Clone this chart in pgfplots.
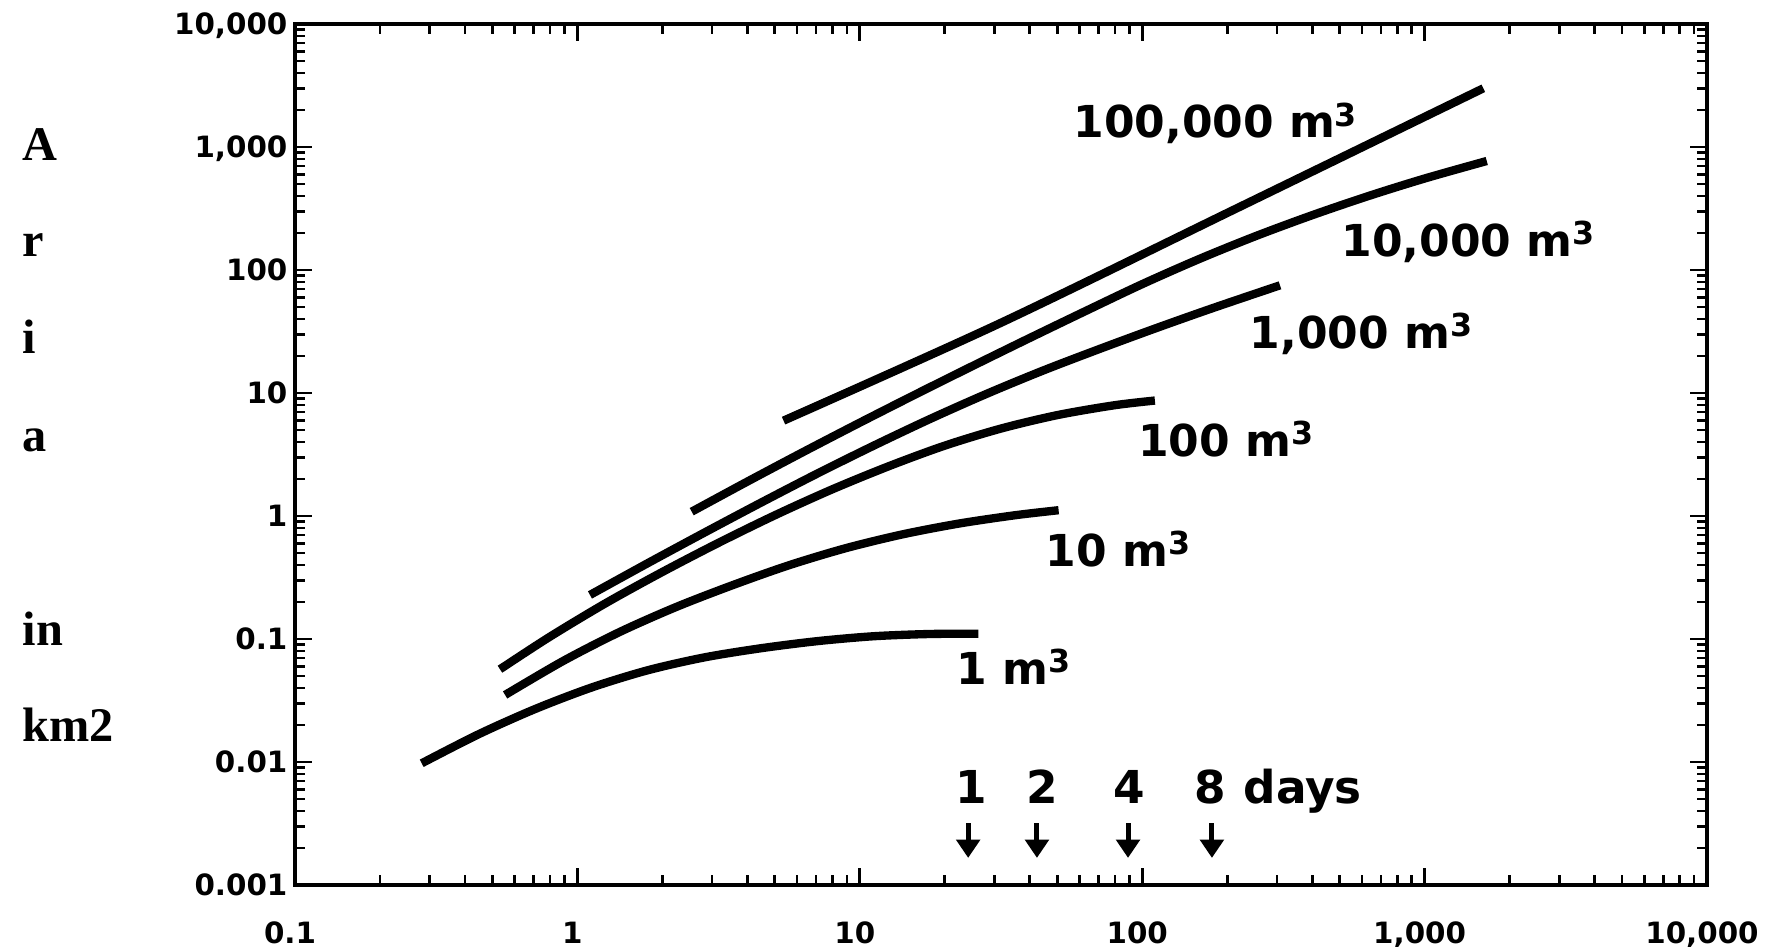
\documentclass[border=0pt]{standalone}
\usepackage{fontspec}
\usepackage{pgfplots}
\pgfplotsset{compat=1.18}
\usetikzlibrary{arrows.meta}
\newfontfamily\dvs{DejaVu Sans}
\newfontfamily\lser{Liberation Serif}
\newcommand\tickf{\dvs\bfseries\fontsize{8.8}{10}\selectfont}
\newcommand\labf{\dvs\bfseries\fontsize{13.2}{15}\selectfont}
\newcommand\dayf{\dvs\bfseries\fontsize{13.6}{15}\selectfont}
\newcommand\serf{\lser\bfseries\fontsize{14.5}{16}\selectfont}
\newcommand\cub{\raisebox{3.6pt}{\fontsize{9.5}{10}\selectfont 3}}
\begin{document}
\begin{tikzpicture}
\begin{axis}[
 xmode=log, ymode=log,
 scale only axis, width=423.6pt, height=258.3pt,
 xmin=0.1, xmax=10000, ymin=0.001, ymax=10000,
 xtick={0.1,1,10,100,1000,10000},
 xticklabels={0.1,1,10,100,{1,000},{10,000}},
 ytick={0.001,0.01,0.1,1,10,100,1000,10000},
 yticklabels={0.001,0.01,0.1,1,10,100,{1,000},{10,000}},
 tick align=inside, xtick pos=both, ytick pos=both,
 major tick length=5.1pt, minor tick length=3pt,
 every tick/.style={black, line width=0.8pt},
 line width=1pt,
 xticklabel style={font=\tickf, anchor=north, inner sep=0pt, yshift=-10.5pt, xshift=-1.5pt},
 yticklabel style={font=\tickf, anchor=base east, inner sep=0pt, xshift=-1.8pt, yshift=-3.2pt},
 clip=false,
]
% 1 m3
\addplot[black, line width=2.5pt, smooth, line cap=butt] coordinates {
 (0.281,0.009759) (0.4467,0.01680) (0.7079,0.02692) (1.122,0.04030) (1.778,0.05574)
 (2.818,0.07086) (4.467,0.08408) (7.079,0.09605) (11.22,0.1053) (17.78,0.1098) (26.29,0.1102)};
% 10 m3
\addplot[black, line width=2.5pt, smooth, line cap=butt] coordinates {
 (0.5546,0.03508) (0.8913,0.06634) (1.413,0.1141) (2.239,0.1821) (3.548,0.2740)
 (5.623,0.3981) (8.913,0.5470) (14.13,0.7079) (22.39,0.8670) (35.48,1.014) (50.58,1.114)};
% 100 m3
\addplot[black, line width=2.5pt, smooth, line cap=butt] coordinates {
 (0.532,0.05675) (0.7943,0.1034) (1.259,0.1953) (1.995,0.3496) (3.162,0.6053)
 (5.012,1.015) (7.943,1.637) (12.59,2.525) (19.95,3.725) (31.62,5.138)
 (50.12,6.612) (79.43,7.937) (110.9,8.680)};
% 1,000 m3
\addplot[black, line width=2.5pt, smooth, line cap=butt] coordinates {
 (1.108,0.2280) (1.778,0.4143) (2.818,0.7328) (4.467,1.283) (7.079,2.215)
 (11.22,3.738) (17.78,6.163) (28.18,9.858) (44.67,15.25) (70.79,22.84)
 (112.2,33.71) (177.8,48.99) (307.6,75.04)};
% 10,000 m3
\addplot[black, line width=2.5pt, smooth, line cap=butt] coordinates {
 (2.540,1.084) (3.981,1.894) (6.310,3.317) (10,5.736) (15.85,9.806)
 (25.12,16.60) (39.81,27.87) (63.10,46.42) (100,76.71) (158.5,122.3)
 (251.2,187.8) (398.1,277.8) (631.0,398.5) (1000,554.0) (1660,769.1)};
% 100,000 m3
\addplot[black, line width=2.5pt, smooth, line cap=butt] coordinates {
 (5.370,5.957) (31.37,36.90) (210.3,307.6) (1614,2999)};

\node[font=\labf, anchor=base west, inner sep=0pt] at (axis cs:56.3,1183) {100,000 m\cub};
\node[font=\labf, anchor=base west, inner sep=0pt] at (axis cs:501.6,128.2) {10,000 m\cub};
\node[font=\labf, anchor=base west, inner sep=0pt] at (axis cs:237.5,23.07) {1,000 m\cub};
\node[font=\labf, anchor=base west, inner sep=0pt] at (axis cs:95.6,3.03) {100 m\cub};
\node[font=\labf, anchor=base west, inner sep=0pt] at (axis cs:44.9,0.385) {10 m\cub};
\node[font=\labf, anchor=base west, inner sep=0pt] at (axis cs:21.7,0.043) {1 m\cub};

\node[font=\dayf, anchor=base, inner sep=0pt] at (axis cs:24.77,0.004556) {1};
\node[font=\dayf, anchor=base, inner sep=0pt] at (axis cs:44.2,0.004556) {2};
\node[font=\dayf, anchor=base, inner sep=0pt] at (axis cs:89.8,0.004556) {4};
\node[font=\dayf, anchor=base, inner sep=0pt] at (axis cs:173.8,0.004556) {8};
\node[font=\dayf, anchor=base west, inner sep=0pt] at (axis cs:225.6,0.004556) {days};

\draw[-{Triangle[length=5.5pt,width=7pt]}, line width=1.5pt] (axis cs:24.2,0.00319) -- (axis cs:24.2,0.00166);
\draw[-{Triangle[length=5.5pt,width=7pt]}, line width=1.5pt] (axis cs:42.4,0.00319) -- (axis cs:42.4,0.00166);
\draw[-{Triangle[length=5.5pt,width=7pt]}, line width=1.5pt] (axis cs:89.1,0.00319) -- (axis cs:89.1,0.00166);
\draw[-{Triangle[length=5.5pt,width=7pt]}, line width=1.5pt] (axis cs:176.6,0.00319) -- (axis cs:176.6,0.00166);

\node[font=\serf, anchor=base west, inner sep=0pt] at (rel axis cs:-0.194,0.842) {A};
\node[font=\serf, anchor=base west, inner sep=0pt] at (rel axis cs:-0.194,0.7294) {r};
\node[font=\serf, anchor=base west, inner sep=0pt] at (rel axis cs:-0.194,0.6167) {i};
\node[font=\serf, anchor=base west, inner sep=0pt] at (rel axis cs:-0.194,0.504) {a};
\node[font=\serf, anchor=base west, inner sep=0pt] at (rel axis cs:-0.194,0.2787) {in};
\node[font=\serf, anchor=base west, inner sep=0pt] at (rel axis cs:-0.194,0.1672) {km2};

\coordinate (BL) at (rel axis cs:-0.20892,-0.07201);
\coordinate (TR) at (rel axis cs:1.04178,1.02787);
\end{axis}
\pgfresetboundingbox
\path[use as bounding box] (BL) rectangle (TR);
\end{tikzpicture}
\end{document}
